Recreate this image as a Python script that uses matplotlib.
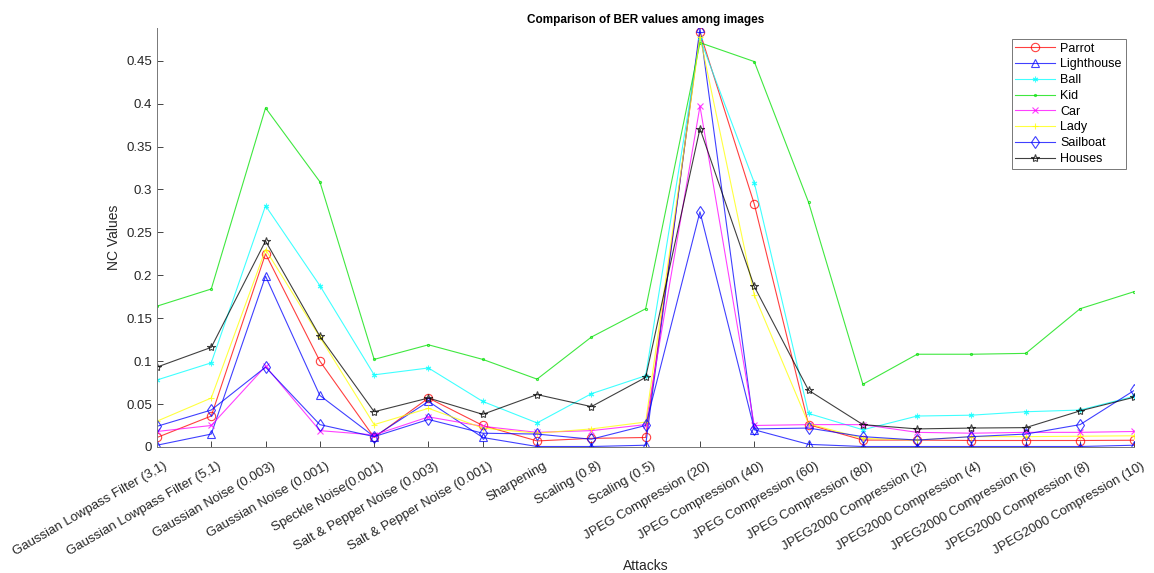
import numpy as np
import matplotlib.pyplot as plt
import matplotlib.transforms as mtransforms
from matplotlib.ticker import FuncFormatter

plt.rcParams['font.family'] = ['Liberation Sans', 'DejaVu Sans']

attacks = ['Gaussian Lowpass Filter (3,1)', 'Gaussian Lowpass Filter (5,1)',
           'Gaussian Noise (0.003)', 'Gaussian Noise (0.001)', 'Speckle Noise(0.001)',
           'Salt & Pepper Noise (0.003)', 'Salt & Pepper Noise (0.001)', 'Sharpening',
           'Scaling (0.8)', 'Scaling (0.5)', 'JPEG Compression (20)', 'JPEG Compression (40)',
           'JPEG Compression (60)', 'JPEG Compression (80)', 'JPEG2000 Compression (2)',
           'JPEG2000 Compression (4)', 'JPEG2000 Compression (6)', 'JPEG2000 Compression (8)',
           'JPEG2000 Compression (10)']

parrot = [0.011, 0.036, 0.225, 0.100, 0.011, 0.057, 0.025, 0.007, 0.010, 0.011,
          0.483, 0.283, 0.026, 0.008, 0.008, 0.0075, 0.0075, 0.0075, 0.0078]
lighthouse = [0.002, 0.015, 0.199, 0.060, 0.012, 0.053, 0.011, 0.0005, 0.0005, 0.002,
              0.488, 0.020, 0.003, 0.0005, 0.0005, 0.0005, 0.0005, 0.0005, 0.002]
ball = [0.078, 0.098, 0.281, 0.188, 0.084, 0.092, 0.053, 0.028, 0.062, 0.083,
        0.476, 0.308, 0.039, 0.020, 0.036, 0.037, 0.041, 0.043, 0.059]
kid = [0.164, 0.184, 0.395, 0.309, 0.102, 0.119, 0.102, 0.079, 0.128, 0.161,
       0.471, 0.449, 0.285, 0.073, 0.108, 0.108, 0.109, 0.161, 0.181]
car = [0.018, 0.025, 0.094, 0.019, 0.014, 0.035, 0.024, 0.017, 0.019, 0.026,
       0.397, 0.025, 0.026, 0.026, 0.017, 0.016, 0.017, 0.017, 0.018]
lady = [0.030, 0.057, 0.230, 0.128, 0.026, 0.045, 0.022, 0.016, 0.021, 0.029,
        0.478, 0.177, 0.027, 0.010, 0.008, 0.012, 0.012, 0.0125, 0.013]
sailboat = [0.024, 0.043, 0.093, 0.026, 0.012, 0.032, 0.016, 0.015, 0.009, 0.025,
            0.274, 0.021, 0.022, 0.012, 0.008, 0.012, 0.015, 0.026, 0.066]
houses = [0.093, 0.116, 0.240, 0.129, 0.041, 0.057, 0.038, 0.061, 0.047, 0.081,
          0.371, 0.187, 0.066, 0.026, 0.021, 0.022, 0.0225, 0.042, 0.058]

names = ['Parrot', 'Lighthouse', 'Ball', 'Kid', 'Car', 'Lady', 'Sailboat', 'Houses']
series = [parrot, lighthouse, ball, kid, car, lady, sailboat, houses]
colors = ['#ff0000', '#0000ff', '#00ffff', '#00e000', '#ff00ff', '#ffff00', '#0000ff', '#000000']
markers = ['o', '^', (6, 2, 0), '.', 'x', '+', 'd', '*']
msizes = [6, 6, 4, 3, 4, 5, 6, 6]

fig = plt.figure(figsize=(11.54, 5.73), dpi=100)
ax = fig.add_axes([0.136, 0.220, 0.847, 0.731])

x = np.arange(len(attacks))
for s, n, c, m, ms in zip(series, names, colors, markers, msizes):
    ax.plot(x, s, color=c, marker=m, markersize=ms, markerfacecolor='none',
            markeredgecolor=c, markeredgewidth=0.8, linewidth=0.8, alpha=0.75, label=n)

ax.set_xlim(0, len(attacks) - 1)
ax.set_ylim(0, max(max(s) for s in series))
ax.set_xticks(x)
ax.set_xticklabels(attacks, rotation=30, ha='right', rotation_mode='anchor', fontsize=9.5)
ax.set_yticks(np.arange(0, 0.46, 0.05))
ax.yaxis.set_major_formatter(FuncFormatter(lambda v, p: '%g' % round(v, 2)))
ax.tick_params(direction='in', length=4, colors='#262626', width=0.6)
ax.tick_params(axis='y', labelsize=9.5)
for side in ['top', 'right']:
    ax.spines[side].set_visible(False)
for side in ['left', 'bottom']:
    ax.spines[side].set_color('#777777')
    ax.spines[side].set_linewidth(0.7)

# push the rotated labels right and down (after tick_params, which resets transforms)
shift = mtransforms.ScaledTranslation(6 / 100, -8 / 100, fig.dpi_scale_trans)
for lbl in ax.xaxis.get_majorticklabels():
    lbl.set_transform(lbl.get_transform() + shift)

ax.set_title('Comparison of BER values among images', fontsize=8.5, fontweight='bold', pad=4)
ax.set_xlabel('Attacks', fontsize=10, color='#262626', labelpad=1)
ax.set_ylabel('NC Values', fontsize=10, color='#262626')

leg = ax.legend(loc='upper right', bbox_to_anchor=(0.991, 0.974), borderaxespad=0,
                fontsize=9, fancybox=False, framealpha=1, edgecolor='#777777',
                borderpad=0.3, labelspacing=0.3, handlelength=3.2, handletextpad=0.4)
leg.get_frame().set_linewidth(0.7)

fig.savefig('out.png', dpi=100)
